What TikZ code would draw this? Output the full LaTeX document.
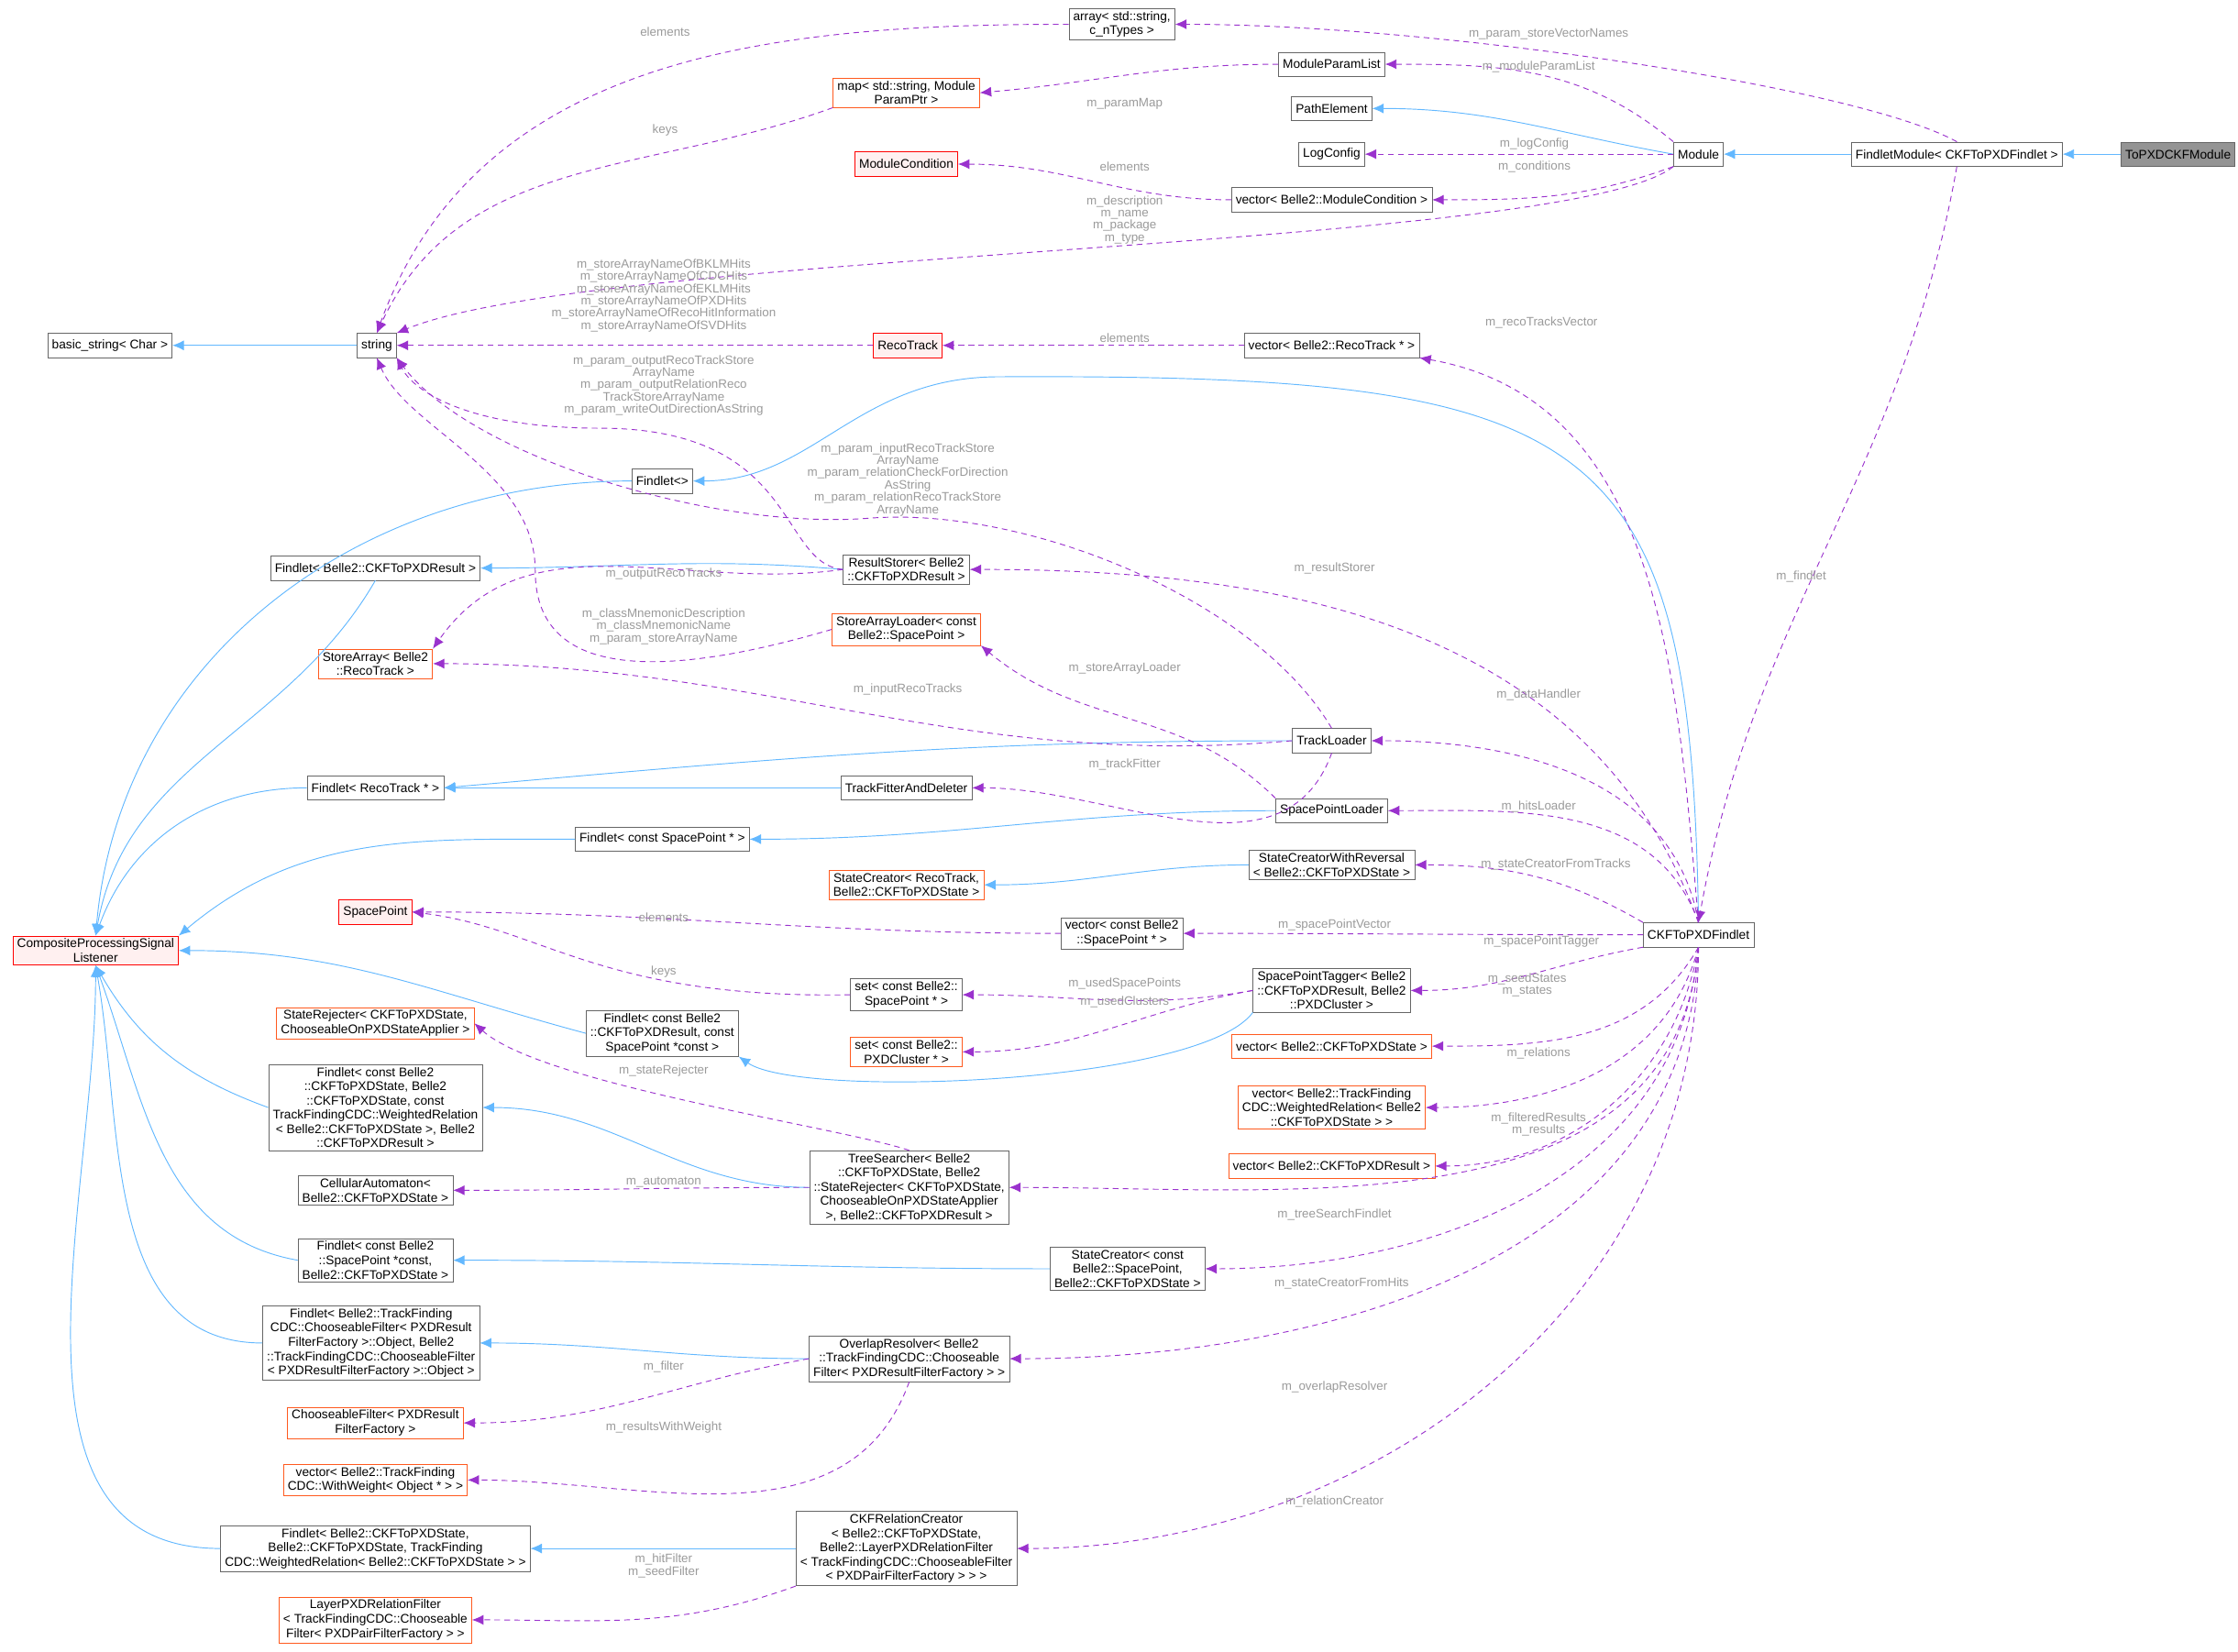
\documentclass[tikz,border=0pt]{standalone}
\usepackage{fontspec}
\setmainfont{Liberation Sans}
\usetikzlibrary{arrows.meta, calc, positioning}
\definecolor{edgeblue}{HTML}{63B8FF}
\definecolor{edgepurple}{HTML}{9A32CD}
\definecolor{lblgray}{HTML}{9A9A9A}
\definecolor{boxgray}{HTML}{666666}
\definecolor{boxorange}{HTML}{FF5A1F}
\definecolor{boxred}{HTML}{FF0000}
\definecolor{pinkfill}{HTML}{FFF0F0}
\tikzstyle{cls} = [rectangle, draw=boxgray, fill=white, font=\fontsize{8.8}{10}\selectfont, align=center, inner xsep=3pt, inner ysep=2pt, minimum height=17pt]
\tikzstyle{undoc} = [cls, draw=boxorange]
\tikzstyle{ext} = [cls, draw=boxred, fill=pinkfill]
\tikzstyle{self} = [cls, fill=boxgray!70]
\tikzstyle{inh} = [edgeblue, line width=0.6pt, -{Latex[length=8pt,width=7pt]}]
\tikzstyle{uses} = [edgepurple, dashed, dash pattern=on 4pt off 3pt, line width=0.6pt, -{Latex[length=8pt,width=7pt]}]
\tikzstyle{lbl} = [lblgray, font=\fontsize{8.6}{8.6}\selectfont, align=center, inner sep=0pt]

\begin{document}
\begin{tikzpicture}[x=1pt, y=-1pt]
	\useasboundingbox (0,0) rectangle (1568,1157);
	% classes
	\node (ToPXD) [self] at (1526,108) {ToPXDCKFModule};
	\node (FindletModule) [cls] at (1371,108) {FindletModule< CKFToPXDFindlet >};
	\node (Module) [cls] at (1190,108) {Module};
	\node (Array) [cls] at (786,17) {array< std::string,\\ c\_nTypes >};
	\node (ParamList) [cls] at (933,45) {ModuleParamList};
	\node (ParamMap) [undoc] at (635,65) {map< std::string, Module\\ParamPtr >};
	\node (PathElement) [cls] at (933,76) {PathElement};
	\node (LogConfig) [cls] at (933,108) {LogConfig};
	\node (ModCond) [ext] at (635,115) {ModuleCondition};
	\node (VecModCond) [cls] at (933,140) {vector< Belle2::ModuleCondition >};
	\node (BasicString) [cls] at (77,242) {basic\_string< Char >};
	\node (String) [cls] at (264,242) {string};
	\node (RecoTrack) [ext] at (636,242) {RecoTrack};
	\node (VecReco) [cls] at (933,242) {vector< Belle2::RecoTrack * >};
	\node (FindletV) [cls] at (464,337) {Findlet<>};
	\node (FindletResult) [cls] at (263,398) {Findlet< Belle2::CKFToPXDResult >};
	\node (ResultStorer) [cls] at (635,399) {ResultStorer< Belle2\\::CKFToPXDResult >};
	\node (SALoader) [undoc] at (635,441) {StoreArrayLoader< const\\Belle2::SpacePoint >};
	\node (StoreArray) [undoc] at (263,465) {StoreArray< Belle2\\::RecoTrack >};
	\node (TrackLoader) [cls] at (933,519) {TrackLoader};
	\node (FindletReco) [cls] at (263,552) {Findlet< RecoTrack * >};
	\node (TrackFitter) [cls] at (635,552) {TrackFitterAndDeleter};
	\node (SPLoader) [cls] at (933,568) {SpacePointLoader};
	\node (FindletSP) [cls] at (464,588) {Findlet< const SpacePoint * >};
	\node (SCReversal) [cls] at (933,606) {StateCreatorWithReversal\\< Belle2::CKFToPXDState >};
	\node (SCReco) [undoc] at (635,620) {StateCreator< RecoTrack,\\Belle2::CKFToPXDState >};
	\node (CPSL) [ext] at (67,666) {CompositeProcessingSignal\\Listener};
	\node (SpacePoint) [ext] at (263,639) {SpacePoint};
	\node (VecSP) [cls] at (786,654) {vector< const Belle2\\::SpacePoint * >};
	\node (CKF) [cls] at (1190,655) {CKFToPXDFindlet};
	\node (Tagger) [cls] at (933,694) {SpacePointTagger< Belle2\\::CKFToPXDResult, Belle2\\::PXDCluster >};
	\node (SetSP) [cls] at (635,697) {set< const Belle2::\\SpacePoint * >};
	\node (Rejecter) [undoc] at (263,717) {StateRejecter< CKFToPXDState,\\ChooseableOnPXDStateApplier >};
	\node (FindletTag) [cls] at (464,724) {Findlet< const Belle2\\::CKFToPXDResult, const\\SpacePoint *const >};
	\node (SetCluster) [undoc] at (635,737) {set< const Belle2::\\PXDCluster * >};
	\node (VecState) [undoc] at (933,733) {vector< Belle2::CKFToPXDState >};
	\node (VecRel) [undoc] at (933,776) {vector< Belle2::TrackFinding\\CDC::WeightedRelation< Belle2\\::CKFToPXDState > >};
	\node (FindletTree) [cls] at (263,776) {Findlet< const Belle2\\::CKFToPXDState, Belle2\\::CKFToPXDState, const\\TrackFindingCDC::WeightedRelation\\< Belle2::CKFToPXDState >, Belle2\\::CKFToPXDResult >};
	\node (VecResult) [undoc] at (933,817) {vector< Belle2::CKFToPXDResult >};
	\node (TreeSearcher) [cls] at (637,832) {TreeSearcher< Belle2\\::CKFToPXDState, Belle2\\::StateRejecter< CKFToPXDState,\\ChooseableOnPXDStateApplier\\>, Belle2::CKFToPXDResult >};
	\node (Automaton) [cls] at (263,834) {CellularAutomaton<\\Belle2::CKFToPXDState >};
	\node (FindletHits) [cls] at (263,883) {Findlet< const Belle2\\::SpacePoint *const,\\Belle2::CKFToPXDState >};
	\node (SCHits) [cls] at (790,889) {StateCreator< const\\Belle2::SpacePoint,\\Belle2::CKFToPXDState >};
	\node (FindletOverlap) [cls] at (260,941) {Findlet< Belle2::TrackFinding\\CDC::ChooseableFilter< PXDResult\\FilterFactory >::Object, Belle2\\::TrackFindingCDC::ChooseableFilter\\< PXDResultFilterFactory >::Object >};
	\node (Overlap) [cls] at (637,952) {OverlapResolver< Belle2\\::TrackFindingCDC::Chooseable\\Filter< PXDResultFilterFactory > >};
	\node (ChooseFilter) [undoc] at (263,997) {ChooseableFilter< PXDResult\\FilterFactory >};
	\node (VecWeight) [undoc] at (263,1037) {vector< Belle2::TrackFinding\\CDC::WithWeight< Object * > >};
	\node (FindletRel) [cls] at (263,1085) {Findlet< Belle2::CKFToPXDState,\\Belle2::CKFToPXDState, TrackFinding\\CDC::WeightedRelation< Belle2::CKFToPXDState > >};
	\node (RelCreator) [cls] at (635,1085) {CKFRelationCreator\\< Belle2::CKFToPXDState,\\Belle2::LayerPXDRelationFilter\\< TrackFindingCDC::ChooseableFilter\\< PXDPairFilterFactory > > >};
	\node (LayerFilter) [undoc] at (263,1135) {LayerPXDRelationFilter\\< TrackFindingCDC::Chooseable\\Filter< PXDPairFilterFactory > >};

	% inheritance
	\draw [inh] (ToPXD) -- (FindletModule);
	\draw [inh] (FindletModule) -- (Module);
	\draw [inh] (Module.west) to[out=170, in=0] (PathElement.east);
	\draw [inh] (String) -- (BasicString);
	\draw [inh] (CKF.north) .. controls (1185,300) and (1120,262) .. (700,264) .. controls (600,264) and (570,337) .. (FindletV.east);
	\draw [inh] (FindletV.west) to[out=180, in=85] (CPSL.north);
	\draw [inh] (ResultStorer.west) to[out=175, in=0] (FindletResult.east);
	\draw [inh] (FindletResult.south) to[out=-120, in=80] (CPSL.north);
	\draw [inh] (TrackLoader.west) to[out=180, in=5] (FindletReco.east);
	\draw [inh] (TrackFitter) -- (FindletReco);
	\draw [inh] (FindletReco.west) to[out=180, in=70] (CPSL.north);
	\draw [inh] (SPLoader.west) to[out=180, in=0] (FindletSP.east);
	\draw [inh] (FindletSP.west) to[out=180, in=40] (CPSL.north east);
	\draw [inh] (SCReversal.west) to[out=180, in=0] (SCReco.east);
	\draw [inh] (Tagger.south west) .. controls (840,760) and (560,770) .. (FindletTag.south east);
	\draw [inh] (FindletTag.west) to[out=165, in=0] (CPSL.east);
	\draw [inh] (TreeSearcher.west) to[out=180, in=0] (FindletTree.east);
	\draw [inh] (FindletTree.west) to[out=160, in=-60] (CPSL.south);
	\draw [inh] (SCHits.west) to[out=180, in=0] (FindletHits.east);
	\draw [inh] (FindletHits.west) to[out=170, in=-70] (CPSL.south);
	\draw [inh] (Overlap.west) to[out=180, in=0] (FindletOverlap.east);
	\draw [inh] (FindletOverlap.west) to[out=180, in=-80] (CPSL.south);
	\draw [inh] (RelCreator.west) to[out=180, in=0] (FindletRel.east);
	\draw [inh] (FindletRel.west) to[out=180, in=-90] (CPSL.south);

	% usage
	\draw [uses] (FindletModule.north) .. controls (1300,60) and (1000,17) .. (Array.east);
	\draw [uses] (Module.north west) to[out=140, in=0] (ParamList.east);
	\draw [uses] (Module.west) to[out=180, in=0] (LogConfig.east);
	\draw [uses] (Module.south west) to[out=200, in=0] (VecModCond.east);
	\draw [uses] (Module.south west) .. controls (1100,175) and (420,175) .. (String.north east);
	\draw [uses] (FindletModule.south) to[out=-100, in=80] (CKF.north);
	\draw [uses] (Array.west) to[out=180, in=70] (String.north);
	\draw [uses] (ParamList.west) to[out=180, in=5] (ParamMap.east);
	\draw [uses] (ParamMap.south west) to[out=200, in=65] (String.north);
	\draw [uses] (VecModCond.west) to[out=180, in=0] (ModCond.east);
	\draw [uses] (RecoTrack) -- (String);
	\draw [uses] (VecReco) -- (RecoTrack);
	\draw [uses] (CKF.north) to[out=95, in=-10] (VecReco.south east);
	\draw [uses] (ResultStorer.west) .. controls (545,395) and (560,300) .. (420,300) .. controls (330,300) and (290,275) .. (String.south east);
	\draw [uses] (TrackLoader.north) .. controls (880,420) and (720,355) .. (610,363) .. controls (500,372) and (330,320) .. (String.south east);
	\draw [uses] (CKF.north) to[out=110, in=0] (ResultStorer.east);
	\draw [uses] (ResultStorer.west) to[out=188, in=55] (StoreArray.north east);
	\draw [uses] (SALoader.west) .. controls (450,480) and (375,470) .. (375,400) .. controls (375,330) and (285,300) .. (String.south);
	\draw [uses] (SPLoader.north west) to[out=135, in=-40] (SALoader.south east);
	\draw [uses] (TrackLoader.west) to[out=185, in=0] (StoreArray.east);
	\draw [uses] (CKF.north) to[out=100, in=0] (TrackLoader.east);
	\draw [uses] (TrackLoader.south) to[out=-110, in=0] (TrackFitter.east);
	\draw [uses] (CKF.north) to[out=110, in=0] (SPLoader.east);
	\draw [uses] (CKF.north west) to[out=150, in=0] (SCReversal.east);
	\draw [uses] (VecSP.west) to[out=180, in=0] (SpacePoint.east);
	\draw [uses] (CKF.west) to[out=180, in=0] (VecSP.east);
	\draw [uses] (CKF.south west) to[out=190, in=0] (Tagger.east);
	\draw [uses] (SetSP.west) .. controls (420,700) and (380,650) .. (SpacePoint.east);
	\draw [uses] (Tagger.west) to[out=190, in=0] (SetSP.east);
	\draw [uses] (Tagger.west) to[out=190, in=0] (SetCluster.east);
	\draw [uses] (CKF.south) to[out=-120, in=0] (VecState.east);
	\draw [uses] (CKF.south) to[out=-105, in=0] (VecRel.east);
	\draw [uses] (CKF.south) to[out=-100, in=0] (VecResult.east);
	\draw [uses] (TreeSearcher.north) .. controls (590,790) and (380,760) .. (Rejecter.east);
	\draw [uses] (TreeSearcher.west) to[out=180, in=0] (Automaton.east);
	\draw [uses] (CKF.south) to[out=-95, in=0] (TreeSearcher.east);
	\draw [uses] (CKF.south) to[out=-95, in=0] (SCHits.east);
	\draw [uses] (Overlap.west) to[out=190, in=0] (ChooseFilter.east);
	\draw [uses] (Overlap.south) to[out=-110, in=0] (VecWeight.east);
	\draw [uses] (CKF.south) to[out=-92, in=0] (Overlap.east);
	\draw [uses] (CKF.south) to[out=-90, in=0] (RelCreator.east);
	\draw [uses] (RelCreator.south west) to[out=200, in=0] (LayerFilter.east);

	% edge labels
	\node (lVecNames) [lbl] at (1085,24) {m\_param\_storeVectorNames};
	\node (lParamList) [lbl] at (1078,47) {m\_moduleParamList};
	\node (lLog) [lbl] at (1075,101) {m\_logConfig};
	\node (lCond) [lbl] at (1075,117) {m\_conditions};
	\node (lDesc) [lbl] at (788,154) {m\_description\\m\_name\\m\_package\\m\_type};
	\node (lFindlet) [lbl] at (1262,404) {m\_findlet};
	\node (lArrEl) [lbl] at (466,22) {elements};
	\node (lParamMap) [lbl] at (788,73) {m\_paramMap};
	\node (lKeys) [lbl] at (466,91) {keys};
	\node (lCondEl) [lbl] at (788,117) {elements};
	\node (lStoreNames) [lbl] at (465,207) {m\_storeArrayNameOfBKLMHits\\m\_storeArrayNameOfCDCHits\\m\_storeArrayNameOfEKLMHits\\m\_storeArrayNameOfPXDHits\\m\_storeArrayNameOfRecoHitInformation\\m\_storeArrayNameOfSVDHits};
	\node (lRecoEl) [lbl] at (788,237) {elements};
	\node (lRecoVec) [lbl] at (1080,226) {m\_recoTracksVector};
	\node (lOutNames) [lbl] at (465,270) {m\_param\_outputRecoTrackStore\\ArrayName\\m\_param\_outputRelationReco\\TrackStoreArrayName\\m\_param\_writeOutDirectionAsString};
	\node (lInNames) [lbl] at (636,336) {m\_param\_inputRecoTrackStore\\ArrayName\\m\_param\_relationCheckForDirection\\AsString\\m\_param\_relationRecoTrackStore\\ArrayName};
	\node (lStorer) [lbl] at (935,398) {m\_resultStorer};
	\node (lOutTracks) [lbl] at (465,402) {m\_outputRecoTracks};
	\node (lMnemonic) [lbl] at (465,439) {m\_classMnemonicDescription\\m\_classMnemonicName\\m\_param\_storeArrayName};
	\node (lSALoader) [lbl] at (788,468) {m\_storeArrayLoader};
	\node (lInTracks) [lbl] at (636,483) {m\_inputRecoTracks};
	\node (lHandler) [lbl] at (1078,487) {m\_dataHandler};
	\node (lFitter) [lbl] at (788,536) {m\_trackFitter};
	\node (lHits) [lbl] at (1078,565) {m\_hitsLoader};
	\node (lFromTracks) [lbl] at (1090,606) {m\_stateCreatorFromTracks};
	\node (lSPEl) [lbl] at (465,643) {elements};
	\node (lSPVec) [lbl] at (935,648) {m\_spacePointVector};
	\node (lTagger) [lbl] at (1080,660) {m\_spacePointTagger};
	\node (lSPKeys) [lbl] at (465,681) {keys};
	\node (lUsedSP) [lbl] at (788,689) {m\_usedSpacePoints};
	\node (lUsedCl) [lbl] at (788,702) {m\_usedClusters};
	\node (lStates) [lbl] at (1070,690) {m\_seedStates\\m\_states};
	\node (lRelations) [lbl] at (1078,738) {m\_relations};
	\node (lResults) [lbl] at (1078,788) {m\_filteredResults\\m\_results};
	\node (lRejecter) [lbl] at (465,750) {m\_stateRejecter};
	\node (lAutomaton) [lbl] at (465,828) {m\_automaton};
	\node (lTree) [lbl] at (935,851) {m\_treeSearchFindlet};
	\node (lFromHits) [lbl] at (940,899) {m\_stateCreatorFromHits};
	\node (lFilter) [lbl] at (465,958) {m\_filter};
	\node (lWeight) [lbl] at (465,1000) {m\_resultsWithWeight};
	\node (lOverlap) [lbl] at (935,972) {m\_overlapResolver};
	\node (lRelCreator) [lbl] at (935,1052) {m\_relationCreator};
	\node (lHitFilter) [lbl] at (465,1097) {m\_hitFilter\\m\_seedFilter};
\end{tikzpicture}
\end{document}
